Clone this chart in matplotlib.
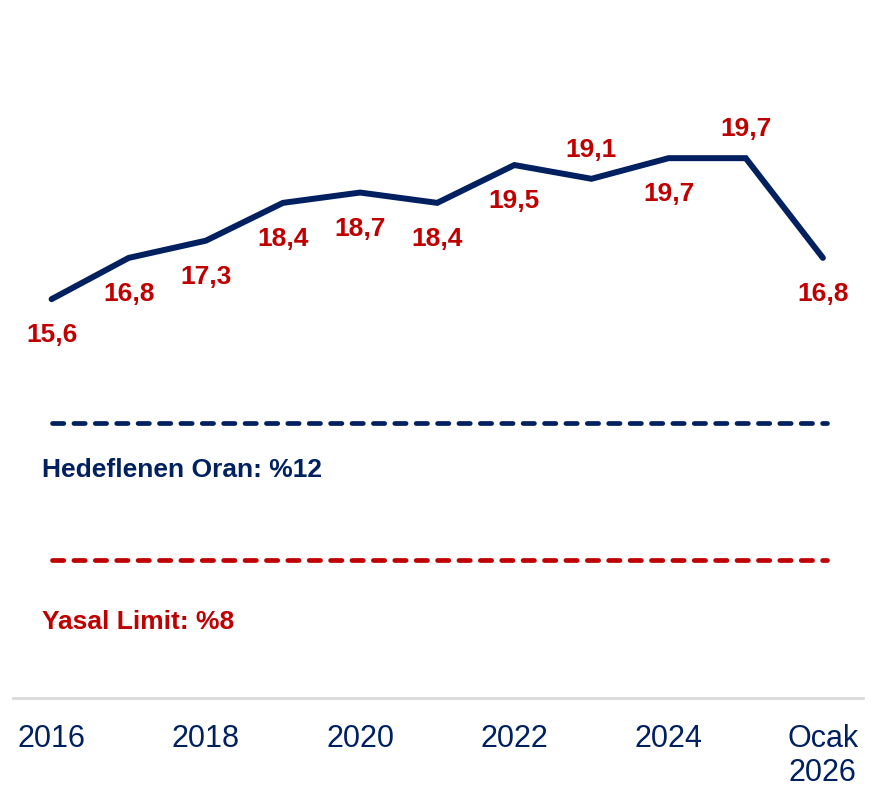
import matplotlib.pyplot as plt

years = ["2016", "2017", "2018", "2019", "2020", "2021", "2022", "2023", "2024", "2025", "Ocak\n2026"]
ratios = [15.6, 16.8, 17.3, 18.4, 18.7, 18.4, 19.5, 19.1, 19.7, 19.7, 16.8]
label_above = [False, False, False, False, False, False, False, True, False, True, False]
target_ratio = 12
legal_limit = 8
tick_every = 2

navy = "#002060"
red = "#C00000"

plt.rcParams["font.family"] = ["Liberation Sans", "DejaVu Sans"]

fig = plt.figure(figsize=(8.73, 7.93), dpi=100)
ax = fig.add_axes([13 / 873, 95 / 793, 850 / 873, 698 / 793])

x = list(range(len(years)))
ax.plot(x, ratios, color=navy, lw=4.3, solid_capstyle="round", solid_joinstyle="miter", zorder=3)

for xi, v, up in zip(x, ratios, label_above):
    ax.annotate(f"{v:.1f}".replace(".", ","), (xi, v),
                xytext=(0, 21 if up else -26), textcoords="offset points",
                ha="center", va="center", color=red, fontsize=19, fontweight="bold")

# hedef ve yasal limit çizgileri
dash = (0, (2.4, 2.13))
line_end = len(years) - 1 + 0.05
ax.plot([0, line_end], [target_ratio, target_ratio], color=navy, lw=3.4, ls=dash,
        dash_capstyle="round")
ax.plot([0, line_end], [legal_limit, legal_limit], color=red, lw=3.4, ls=dash,
        dash_capstyle="round")
ax.text(-0.13, target_ratio - 1.38, f"Hedeflenen Oran: %{target_ratio}", color=navy,
        fontsize=19, fontweight="bold", va="center", ha="left")
ax.text(-0.13, legal_limit - 1.8, f"Yasal Limit: %{legal_limit}", color=red,
        fontsize=19, fontweight="bold", va="center", ha="left")

ax.set_xlim(-0.5, 10.52)
ax.set_ylim(4.0, 24.3)
ax.set_xticks(x[::tick_every])
ax.set_xticklabels(years[::tick_every], linespacing=1.15)
ax.tick_params(axis="x", length=0, pad=19, labelsize=22, labelcolor=navy)
ax.set_yticks([])
for s in ["top", "left", "right"]:
    ax.spines[s].set_visible(False)
ax.spines["bottom"].set_color("#D9D9D9")
ax.spines["bottom"].set_linewidth(2)

fig.savefig("out.png", dpi=100)
